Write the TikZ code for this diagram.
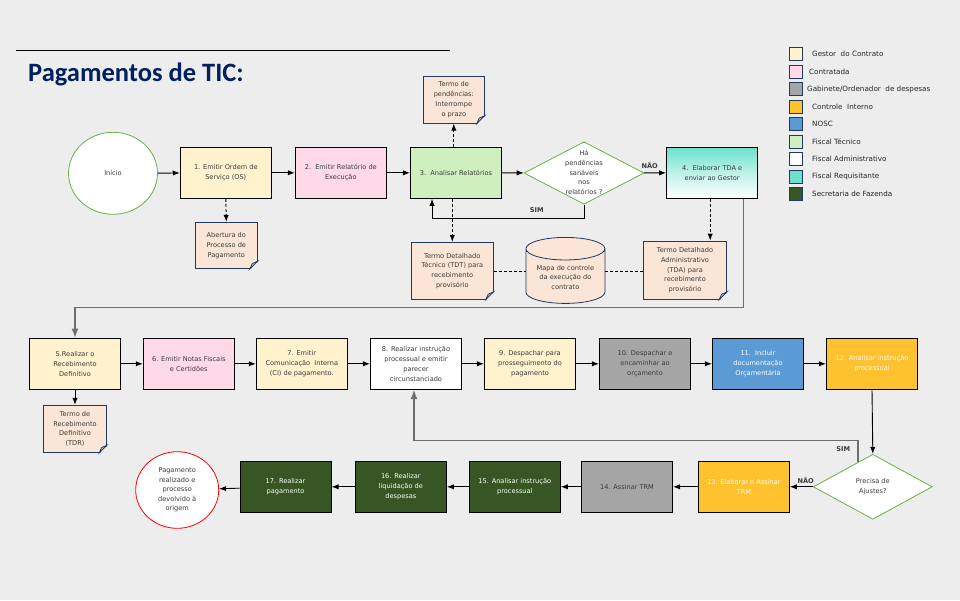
\documentclass[tikz,border=0pt]{standalone}
\usepackage{fontspec}
\setmainfont{DejaVu Sans}
\newfontfamily\titlefont{Carlito}
\usetikzlibrary{arrows.meta,shapes.geometric,calc}

\definecolor{bgcol}{HTML}{EDEDED}
\definecolor{gestor}{HTML}{FFF2CC}
\definecolor{contratada}{HTML}{FFD9E7}
\definecolor{gabinete}{HTML}{A5A5A5}
\definecolor{controle}{HTML}{FFC12E}
\definecolor{nosc}{HTML}{5B9BD5}
\definecolor{tecnico}{HTML}{D0EFBE}
\definecolor{requisitante}{HTML}{6DE1CC}
\definecolor{fazenda}{HTML}{375623}
\definecolor{peach}{HTML}{FBE5D6}
\definecolor{docnavy}{HTML}{203864}
\definecolor{foldgray}{HTML}{B8B8B8}
\definecolor{okgreen}{HTML}{70AD47}
\definecolor{titleblue}{HTML}{002060}
\definecolor{txtgray}{HTML}{3A3A3A}
\definecolor{loopgray}{HTML}{6E6E6E}

% folded corner of a document node
\newcommand{\docfold}[1]{%
  \fill[bgcol] ([xshift=-8pt,yshift=-1pt]#1.south east) -- ([xshift=1pt,yshift=-1pt]#1.south east) -- ([xshift=1pt,yshift=8pt]#1.south east) -- cycle;
  \filldraw[draw=docnavy, fill=foldgray, line width=0.7pt] ([xshift=-8pt]#1.south east) -- ([yshift=8pt]#1.south east) -- ([xshift=-5.5pt,yshift=5.5pt]#1.south east) -- cycle;
}

\begin{document}
\begin{tikzpicture}[
    x=1pt, y=-1pt,
    task/.style={
      draw,
      line width=1pt,
      minimum width=91pt,
      minimum height=51pt,
      align=center,
      inner sep=1pt,
      text=txtgray,
      font=\fontsize{6.6}{10}\selectfont
    },
    doc/.style={
      draw=docnavy,
      fill=peach,
      line width=0.8pt,
      align=center,
      inner sep=1pt,
      text=txtgray,
      font=\fontsize{6.6}{9.7}\selectfont
    },
    choice/.style={
      diamond,
      draw=okgreen,
      fill=white,
      line width=0.8pt,
      inner sep=0pt
    },
    choicetext/.style={
      align=center,
      text=txtgray,
      font=\fontsize{6.6}{9.8}\selectfont
    },
    terminal/.style={
      ellipse,
      fill=white,
      line width=0.8pt,
      align=center,
      inner sep=1pt,
      text=txtgray,
      font=\fontsize{6.6}{9.5}\selectfont
    },
    answer/.style={
      font=\fontsize{6.6}{8}\selectfont\bfseries,
      text=txtgray
    },
    legendbox/.style={
      draw=docnavy,
      line width=1pt,
      minimum size=13pt,
      inner sep=0pt
    },
    flow/.style={->, line width=0.9pt},
    link/.style={->, densely dashed, line width=0.9pt},
    loop/.style={->, draw=loopgray, line width=1.4pt},
    >=Latex
  ]

    \useasboundingbox (0,0) rectangle (960,600);
    \fill[bgcol] (0,0) rectangle (960,600);

    % --- Title
    \coordinate (rulel) at (16,50.7);
    \coordinate (ruler) at (450,50.7);
    \draw[line width=1pt] (rulel) -- (ruler);
    \node[anchor=base west, inner sep=0pt, text=titleblue, font=\titlefont\fontsize{26.5}{30}\selectfont\bfseries] (title) at (28,81) {Pagamentos de TIC:};

    % --- Legend
    \foreach \i/\col/\lx/\txt in {0/gestor/812/{Gestor\ \ do Contrato}, 1/contratada/809/Contratada, 2/gabinete/807/{Gabinete/Ordenador\ \ de despesas}, 3/controle/812/{Controle\ \ Interno}, 4/nosc/812/NOSC, 5/tecnico/812/Fiscal Técnico, 6/white/812/Fiscal Administrativo, 7/requisitante/812/Fiscal Requisitante, 8/fazenda/812/{Secretaria\ de\ Fazenda}} {
      \node[legendbox, fill=\col] (leg\i) at (795.5,54.3+17.5*\i) {};
      \node[anchor=west, inner sep=0pt, text=black!85, font=\fontsize{7.2}{9}\selectfont] (legt\i) at (\lx,54.3+17.5*\i) {\txt};
    }

    % --- Top line
    \node[terminal, draw=okgreen, minimum width=89pt, minimum height=82pt] (start) at (113,173.3) {Início};
    \node[task, fill=gestor] (b1) at (225.8,172.8) {1. Emitir Ordem de\\Serviço (OS)};
    \node[task, fill=contratada] (b2) at (340.8,172.8) {2.\ \ Emitir Relatório de\\Execução};
    \node[task, fill=tecnico] (b3) at (456,172.8) {3.\ \ Analisar Relatórios};
    \node[choice, minimum width=120pt, minimum height=62.5pt] (q1) at (584,173) {};
    \node[choicetext] (q1t) at (584,172.5) {Há\\pendências\\sanáveis\\nos\\relatórios ?};
    \node[task, top color=requisitante, bottom color=white, middle color=requisitante!45] (b4) at (712.2,172.8) {4.\ \ Elaborar TDA e\\enviar ao Gestor};

    % --- Documents round the top line
    \node[doc, minimum width=61pt, minimum height=47pt] (pend) at (453.8,99.7) {Termo de\\pendências:\\Interrompe\\o prazo};
    \node[doc, minimum width=62pt, minimum height=46.4pt] (abertura) at (226.3,245.5) {Abertura do\\Processo de\\Pagamento};
    \node[doc, minimum width=82pt, minimum height=57pt] (tdt) at (452.3,270.8) {Termo Detalhado\\Técnico (TDT) para\\recebimento\\provisório};
    \node[doc, cylinder, shape border rotate=90, aspect=0.38, minimum width=79pt, minimum height=66pt] (mapa) at (565.4,277.5) {Mapa de controle\\da execução do\\contrato};
    \node[doc, minimum width=83.4pt, minimum height=58.3pt] (tda) at (685,270.2) {Termo Detalhado\\Administrativo\\(TDA) para\\recebimento\\provisório};
    \docfold{pend}
    \docfold{abertura}
    \docfold{tdt}
    \docfold{tda}

    % --- Top flow
    \draw[flow] (start) -- (b1);
    \draw[flow] (b1) -- (b2);
    \draw[flow] (b2) -- (b3);
    \draw[flow] (b3) -- (q1);
    \draw[flow] (q1) -- (b4) node[answer, pos=0.25, above=1pt] (nao1) {NÃO};
    \draw[flow] (q1.south) -- ++(0,13.5) -| ([xshift=-24pt]b3.south);
    \node[answer] (sim1) at (536.7,210) {SIM};

    \draw[link] (b1.south) -- (abertura.north);
    \draw[link] (pend.south |- b3.north) -- (pend.south);
    \draw[link] (tdt.north |- b3.south) -- (tdt.north);
    \draw[link] ([xshift=-2pt]b4.south) -- ([xshift=-2pt]b4.south |- tda.north);
    \draw[densely dashed, line width=0.9pt] ([yshift=-1pt]tdt.east) -- ([yshift=-1pt]tdt.east -| mapa.west);
    \draw[densely dashed, line width=0.9pt] ([yshift=-1pt]tdt.east -| mapa.east) -- ([yshift=-1pt]tdt.east -| tda.west);

    % --- Middle line
    \node[task, fill=gestor] (b5) at (75,363.8) {5.Realizar o\\Recebimento\\Definitivo};
    \node[task, fill=contratada] (b6) at (188.8,363.8) {6. Emitir Notas Fiscais\\e Certidões};
    \node[task, fill=gestor] (b7) at (301.8,363.8) {7. Emitir\\Comunicação\ \ Interna\\(CI) de pagamento.};
    \node[task, fill=white] (b8) at (416,363.8) {8. Realizar instrução\\processual e emitir\\parecer\\circunstanciado};
    \node[task, fill=gestor] (b9) at (530,363.8) {9. Despachar para\\prosseguimento do\\pagamento};
    \node[task, fill=gabinete] (b10) at (645,363.8) {10. Despachar e\\encaminhar ao\\orçamento};
    \node[task, fill=nosc, text=white] (b11) at (758,363.8) {11.\ \ Incluir\\documentação\\Orçamentária};
    \node[task, fill=controle, text=white] (b12) at (872,363.8) {12. Analisar instrução\\processual};
    \node[doc, minimum width=63.4pt, minimum height=47.4pt] (tdr) at (75,429) {Termo de\\Recebimento\\Definitivo\\(TDR)};
    \docfold{tdr}

    % --- Top to middle
    \draw[loop] ([xshift=31pt]b4.south) -- ++(0,108.4) -| (b5.north);

    % --- Middle flow
    \draw[flow] (b5.south) -- (tdr.north);
    \draw[flow] (b5) -- (b6);
    \draw[flow] (b6) -- (b7);
    \draw[flow] (b7) -- (b8);
    \draw[flow] (b8) -- (b9);
    \draw[flow] (b9) -- (b10);
    \draw[flow] (b10) -- (b11);
    \draw[flow] (b11) -- (b12);

    % --- Bottom line
    \node[choice, minimum width=119pt, minimum height=65pt] (q2) at (872.8,486.8) {};
    \node[choicetext] (q2t) at (872.8,486.8) {Precisa de\\Ajustes?};
    \node[task, fill=controle, text=white] (b13) at (743.8,486.8) {13. Elaborar e Assinar\\TRM};
    \node[task, fill=gabinete] (b14) at (627,486.8) {14. Assinar TRM};
    \node[task, fill=fazenda, text=white] (b15) at (514.8,486.8) {15. Analisar instrução\\processual};
    \node[task, fill=fazenda, text=white] (b16) at (400.8,486.8) {16. Realizar\\liquidação de\\despesas};
    \node[task, fill=fazenda, text=white] (b17) at (285.5,486.8) {17. Realizar\\pagamento};
    \node[terminal, draw=red, minimum width=83pt, minimum height=76.6pt] (fim) at (177.2,490) {Pagamento\\realizado e\\processo\\devolvido à\\origem};

    % --- Bottom flow
    \draw[flow] (b12.south) -- (q2.north);
    \draw[flow] (q2) -- (b13);
    \node[answer] (nao2) at (805.7,480) {NÃO};
    \draw[loop] ($(q2.north)!0.25!(q2.west)$) -- ++(0,-21.5) -| ([xshift=-2pt]b8.south);
    \node[answer] (sim2) at (843.3,449.3) {SIM};
    \draw[flow] (b13) -- (b14);
    \draw[flow] (b14) -- (b15);
    \draw[flow] (b15) -- (b16);
    \draw[flow] (b16) -- (b17);
    \draw[flow] (b17) -- (fim);

  \end{tikzpicture}
\end{document}
